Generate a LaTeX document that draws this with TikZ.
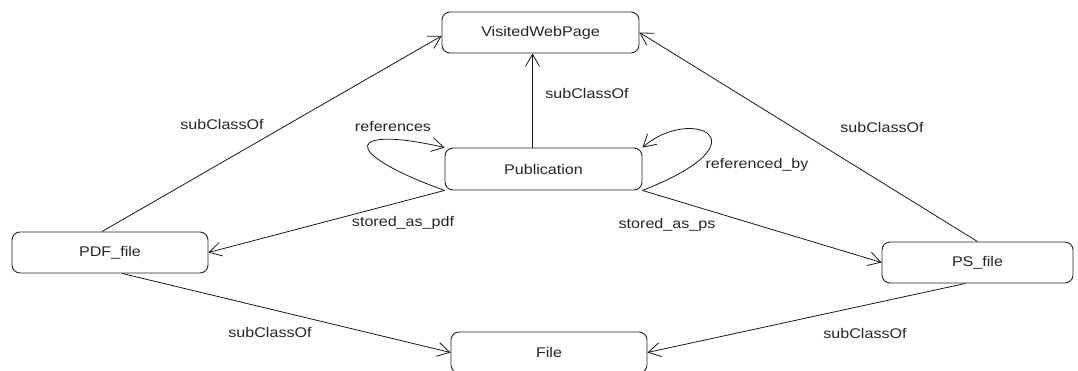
\documentclass[tikz,border=0pt]{standalone}
\usepackage{fontspec}
\setmainfont[FakeStretch=1.15]{Liberation Sans}
\usetikzlibrary{arrows.meta,calc}
\begin{document}
\begin{tikzpicture}[x=1pt,y=-1pt,
  cls/.style={draw=black!85,fill=white,rounded corners=8pt,line width=0.9pt,
    minimum height=41pt,inner sep=0pt,text=black!85,font=\fontsize{14}{16}\selectfont},
  lbl/.style={inner sep=1pt,text=black!85,font=\fontsize{14}{16}\selectfont},
  arr/.style={draw=black!90,line width=0.8pt,-{Straight Barb[angle=60:14pt]}}]
\useasboundingbox (0,0) rectangle (1078,371);
\fill[white] (0,0) rectangle (1078,371);
% classes
\node[cls,minimum width=197pt] (vwp) at (540.5,32.5) {VisitedWebPage};
\node[cls,minimum width=197pt,minimum height=42pt] (pub) at (543.5,169) {Publication};
\node[cls,minimum width=196pt] (pdf) at (110,252.5) {PDF\_file};
\node[cls,minimum width=191pt] (ps) at (977.5,262.5) {PS\_file};
\node[cls,minimum width=196pt] (file) at (549,352.5) {File};
% connectors
\draw[arr] (pdf.111) -- (vwp.182);
\draw[arr] ($(pub.north)+(-11,0)$) coordinate (pt) -- (pt |- vwp.south);
\draw[arr] (ps.north) -- (vwp.east);
\draw[arr] (pub.south west) -- (pdf.east);
\draw[arr] (pub.south east) -- (ps.west);
\draw[arr] (pdf.300) -- (file.west);
\draw[arr] (ps.240) -- (file.east);
% self loops
\draw[arr] (pub.south west) .. controls ($(pub.south west)+(-110,-40)$) and ($(pub.south west)+(-95,-65)$) .. (pub.north west);
\draw[arr] (pub.south east) .. controls ($(pub.south east)+(128,-50)$) and ($(pub.south east)+(48,-85)$) .. (pub.north east);
% labels
\node[lbl] (l1) at (222,124) {subClassOf};
\node[lbl] (l2) at (587,93) {subClassOf};
\node[lbl] (l3) at (882,127) {subClassOf};
\node[lbl] (lr) at (393,127) {references};
\node[lbl] (lrb) at (757,165) {referenced\_by};
\node[lbl] (lpdf) at (403,223) {stored\_as\_pdf};
\node[lbl] (lps) at (667,225) {stored\_as\_ps};
\node[lbl] (l6) at (270,332) {subClassOf};
\node[lbl] (l7) at (865,333) {subClassOf};
\end{tikzpicture}
\end{document}
